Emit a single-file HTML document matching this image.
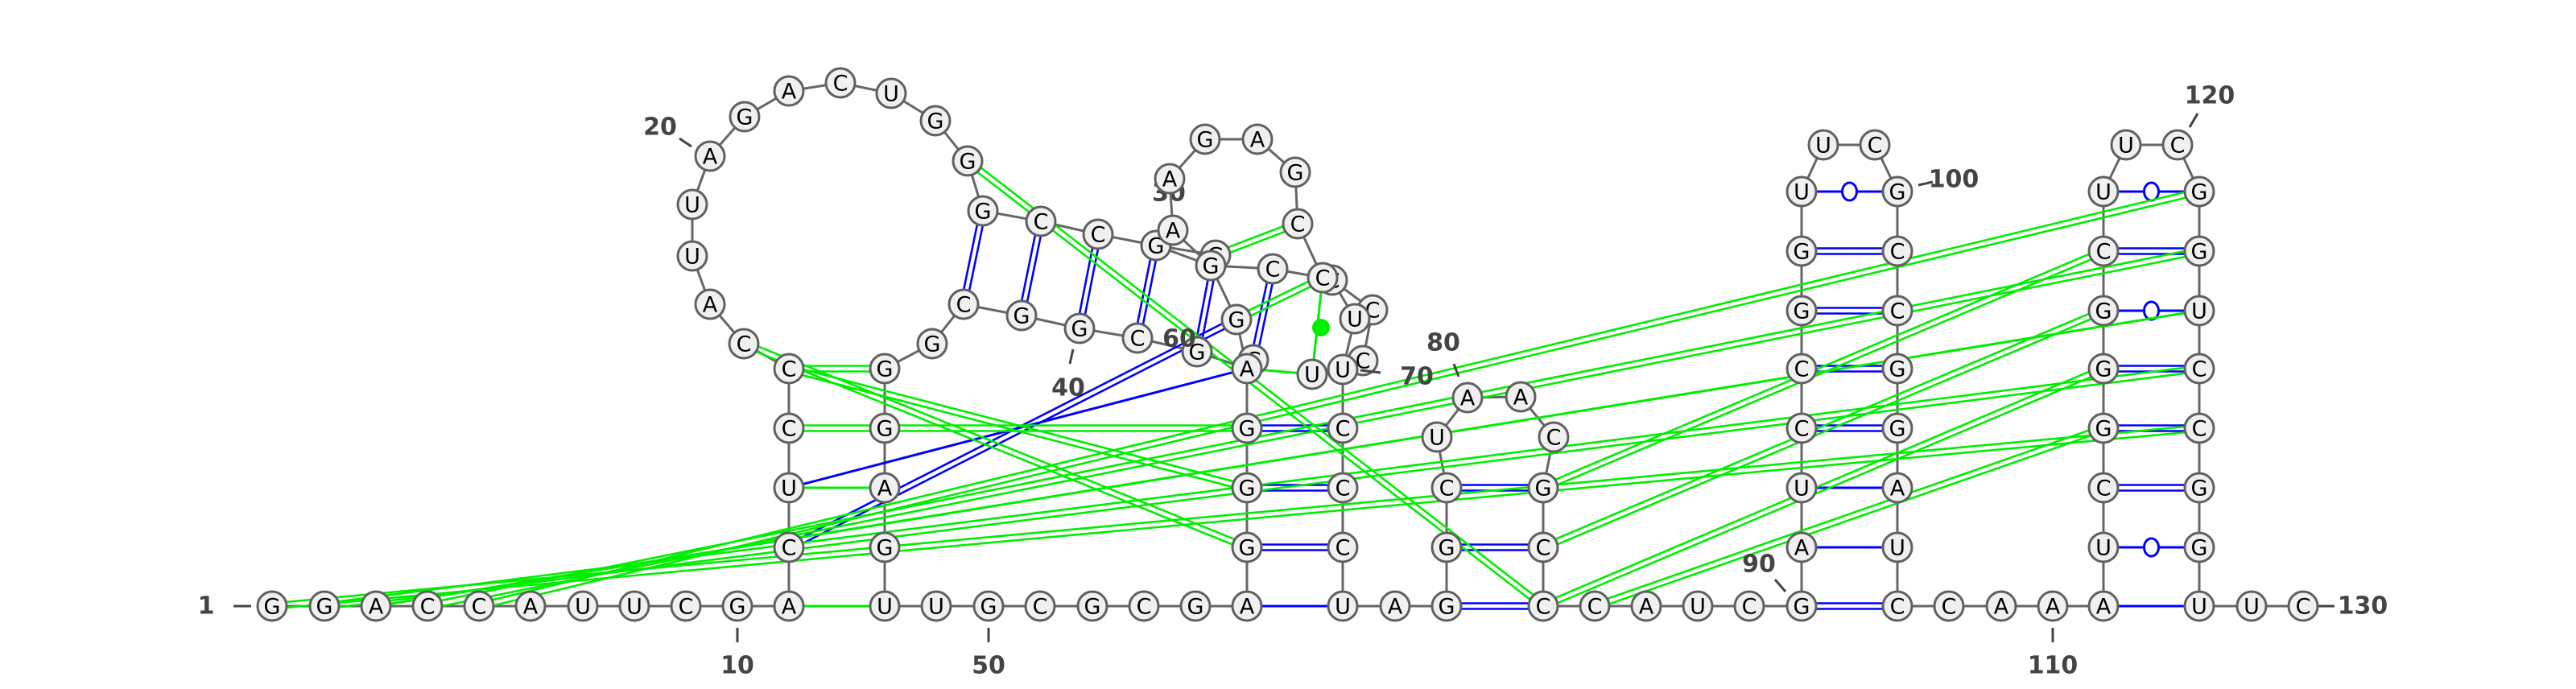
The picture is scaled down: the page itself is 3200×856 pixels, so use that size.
<!DOCTYPE html>
<html><head><meta charset="utf-8">
<style>
html,body{margin:0;padding:0;background:#fff;}
svg{display:block;}
.nt{font-family:"DejaVu Sans","Liberation Sans",sans-serif;font-size:27px;fill:#000;text-anchor:middle;dominant-baseline:central;}
.lbl{font-family:"DejaVu Sans","Liberation Sans",sans-serif;font-size:30px;font-weight:bold;fill:#444;dominant-baseline:central;}
</style></head>
<body>
<svg id="rna" width="3200" height="856" viewBox="0 0 3200 856" xmlns="http://www.w3.org/2000/svg">
<g id="labels-back"></g>
<g id="backbone"></g>
<g id="pairs"></g>
<g id="nodes"></g>
<g id="labels"></g>
</svg>
<script>
const nodes = [
 ['n1','G',338,753],['n2','G',403,753],['n3','A',467,753],['n4','C',531,753],['n5','C',595,753],
 ['n6','A',659,753],['n7','U',724,753],['n8','U',788,753],['n9','C',852,753],['n10','G',916,753],['n11','A',980,753],
 ['n12','C',980,680],['n13','U',980,606],['n14','C',980,532],['n15','C',980,458],
 ['n16','C',924,427],['n17','A',882,378],['n18','U',860,318],['n19','U',860,254],['n20','A',882,194],
 ['n21','G',925,145],['n22','A',980,113],['n23','C',1044,103],['n24','U',1107,116],['n25','G',1162,150],['n26','G',1202,200],
 ['n27','G',1221,262],['n28','C',1293,275],['n29','C',1364,291],['n30','G',1436,305],['n31','G',1510,317],['n32','C',1581,334],
 ['n33b','C',1655,348],['n33','C',1643,345],
 ['h1','C',1612,278],['h2','G',1609,214],['h3','A',1562,173],['h4','G',1497,173],['h5','A',1453,222],['h6','A',1457,286],
 ['k1','G',1504,330],['k2','G',1536,397],['kx','C',1557,447],['k3','G',1487,437],
 ['b1','C',1413,420],['b2','G',1341,408],['b3','G',1269,392],['b4','C',1197,378],['b5','G',1158,427],
 ['r44','G',1099,458],['r45','G',1099,532],['r46','A',1099,606],['r47','G',1099,680],['r48','U',1099,753],
 ['s49','U',1163,753],['s50','G',1228,753],['s51','C',1292,753],['s52','G',1357,753],['s53','C',1421,753],['s54','G',1485,753],
 ['s55','A',1549,753],['s56','G',1549,680],['s57','G',1549,606],['s58','G',1549,532],['s59','A',1549,458],
 ['u1','U',1630,465],['u2c','C',1705,385],['u2','U',1683,396],['u3c','C',1693,448],['u3','U',1668,459],
 ['t1','C',1668,532],['t2','C',1668,606],['t3','C',1668,680],['t4','U',1668,753],['t5','A',1733,753],
 ['v1','G',1797,753],['v2','G',1797,680],['v3','C',1797,606],['v4','U',1785,543],['v5','A',1823,494],['v6','A',1889,493],
 ['v7','C',1930,543],['v8','G',1917,606],['v9','C',1917,680],['v10','C',1917,753],
 ['w1','C',1981,753],['w2','A',2045,753],['w3','U',2109,753],['w4','C',2173,753],
 ['x1','G',2238,753],['x2','A',2238,680],['x3','U',2238,606],['x4','C',2238,532],['x5','C',2238,458],['x6','G',2238,386],['x7','G',2238,312],['x8','U',2238,238],
 ['x9','U',2265,180],['x10','C',2329,180],
 ['x11','G',2357,238],['x12','C',2357,312],['x13','C',2357,386],['x14','G',2357,458],['x15','G',2357,532],['x16','A',2357,606],['x17','U',2357,680],['x18','C',2357,753],
 ['y1','C',2421,753],['y2','A',2486,753],['y3','A',2550,753],
 ['z1','A',2613,753],['z2','U',2613,680],['z3','C',2613,606],['z4','G',2613,532],['z5','G',2613,458],['z6','G',2613,386],['z7','C',2613,312],['z8','U',2613,238],
 ['z9','U',2641,180],['z10','C',2705,180],
 ['z11','G',2732,238],['z12','G',2732,312],['z13','U',2732,386],['z14','C',2732,458],['z15','C',2732,532],['z16','G',2732,606],['z17','G',2732,680],['z18','U',2732,753],
 ['e1','U',2797,753],['e2','C',2861,753]
];
const chains = [
 ['n1','n2','n3','n4','n5','n6','n7','n8','n9','n10','n11','n12','n13','n14','n15','n16','n17','n18','n19','n20','n21','n22','n23','n24','n25','n26','n27','n28','n29','n30','k1','n32','n33','h1','h2','h3','h4','h5','h6','k1','k2','s59'],
 ['n30','n31'],['n33b','u2c','u3c'],['n33b','u2','u3'],['kx','s59'],
 ['k3','s59'],['k3','b1','b2','b3','b4','b5','r44','r45','r46','r47','r48','s49','s50','s51','s52','s53','s54','s55','s56','s57','s58','s59'],
 ['u3','t1','t2','t3','t4','t5','v1','v2','v3','v4','v5','v6','v7','v8','v9','v10','w1','w2','w3','w4','x1','x2','x3','x4','x5','x6','x7','x8','x9','x10','x11','x12','x13','x14','x15','x16','x17','x18','y1','y2','y3','z1','z2','z3','z4','z5','z6','z7','z8','z9','z10','z11','z12','z13','z14','z15','z16','z17','z18','e1','e2']
];
const pairs = [
 ['n27','b4','blue',2],['n28','b3','blue',2],['n29','b2','blue',2],['n30','b1','blue',2],['n31','k3','blue',2],['n32','kx','blue',2],
 ['n12','k2','blue',2],['n13','s59','blue',1],
 ['s58','t1','blue',2],['s57','t2','blue',2],['s56','t3','blue',2],['s55','t4','blue',1],
 ['v3','v8','blue',2],['v2','v9','blue',2],['v1','v10','blue',2],
 ['x1','x18','blue',2],['x2','x17','blue',1],['x3','x16','blue',1],['x4','x15','blue',2],['x5','x14','blue',2],['x6','x13','blue',2],['x7','x12','blue',2],['x8','x11','blue','o'],
 ['z1','z18','blue',1],['z2','z17','blue','o'],['z3','z16','blue',2],['z4','z15','blue',2],['z5','z14','blue',2],['z6','z13','blue','o'],['z7','z12','blue',2],['z8','z11','blue','o'],
 ['n15','r44','lime',2],['n14','s58','lime',2],['n13','r46','lime',1],['n11','r48','lime',1],
 ['n15','s57','lime',2],['n16','s56','lime',2],
 ['n26','v10','lime',2],
 ['h1','n31','lime',2],['n33','k2','lime',2],['n33','u1','lime','dot'],['s59','u1','lime',1],
 ['n5','z11','lime',2],['n4','z12','lime',2],['n3','z13','lime',1],['n2','z14','lime',2],['n1','z15','lime',2],
 ['z7','v8','lime',2],['z6','v9','lime',2],['z5','v10','lime',2],['z4','w1','lime',2]
];
const labels = [
 ['1',256,753,[290,753,312,753]],['10',916,827,[916,780,916,798]],['20',820,158,[844,172,859,182]],
 ['40',1327,482,[1333,434,1329,452]],['50',1228,827,[1228,780,1228,798]],['60',1465,421,null],
 ['70',1760,468,[1690,460,1715,463]],['80',1793,426,[1806,452,1812,468]],['90',2185,701,[2205,720,2218,735]],
 ['100',2427,223,[2383,230,2401,226]],['110',2550,827,[2550,780,2550,798]],['120',2745,119,[2730,141,2720,158]],
 ['130',2935,753,[2880,753,2900,753]]
];
const NS='http://www.w3.org/2000/svg';
const pos={};
nodes.forEach(n=>pos[n[0]]=n);
function mk(tag,attrs,parent){const e=document.createElementNS(NS,tag);for(const k in attrs)e.setAttribute(k,attrs[k]);parent.appendChild(e);return e;}
const gB=document.getElementById('backbone'),gP=document.getElementById('pairs'),gN=document.getElementById('nodes'),gL=document.getElementById('labels'),gLB=document.getElementById('labels-back');
chains.forEach(c=>{for(let i=0;i<c.length-1;i++){const a=pos[c[i]],b=pos[c[i+1]];
 const l=mk('line',{x1:a[2],y1:a[3],x2:b[2],y2:b[3],stroke:'#666','stroke-width':3},gB);
 
 }});
pairs.forEach(p=>{const a=pos[p[0]],b=pos[p[1]];const col=p[2]==='blue'?'#0000ff':'#00ee00';
 const dx=b[2]-a[2],dy=b[3]-a[3],L=Math.hypot(dx,dy),nx=-dy/L,ny=dx/L;
 const g=mk('g',{},gP);
 
 
 if(p[3]===2){[-3.5,3.5].forEach(o=>mk('line',{x1:a[2]+nx*o,y1:a[3]+ny*o,x2:b[2]+nx*o,y2:b[3]+ny*o,stroke:col,'stroke-width':2.6},g));}
 else{mk('line',{x1:a[2],y1:a[3],x2:b[2],y2:b[3],stroke:col,'stroke-width':3},g);}
 if(p[3]==='o'){mk('ellipse',{cx:(a[2]+b[2])/2,cy:(a[3]+b[3])/2,rx:9,ry:11,fill:'#fff',stroke:col,'stroke-width':3},g);}
 if(p[3]==='dot'){mk('circle',{cx:1641,cy:407,r:11,fill:col},g);}
});
nodes.forEach(n=>{const g=mk('g',{},gN);
 
 
 mk('circle',{cx:n[2],cy:n[3],r:18,fill:'#f0f0f0',stroke:'#606060','stroke-width':3},g);
 const t=mk('text',{x:n[2],y:n[3]+1,class:'nt'},g);t.textContent=n[1];});
labels.forEach(l=>{const t=mk('text',{x:l[1],y:l[2],class:'lbl','text-anchor':'middle'},gL);t.textContent=l[0];
 
 
 if(l[3]){const s=mk('line',{x1:l[3][0],y1:l[3][1],x2:l[3][2],y2:l[3][3],stroke:'#444','stroke-width':3},gL);
 
 }});
const t30=mk('text',{x:1452,y:240,class:'lbl','text-anchor':'middle'},gLB);t30.textContent='30';


</script>
</body></html>
